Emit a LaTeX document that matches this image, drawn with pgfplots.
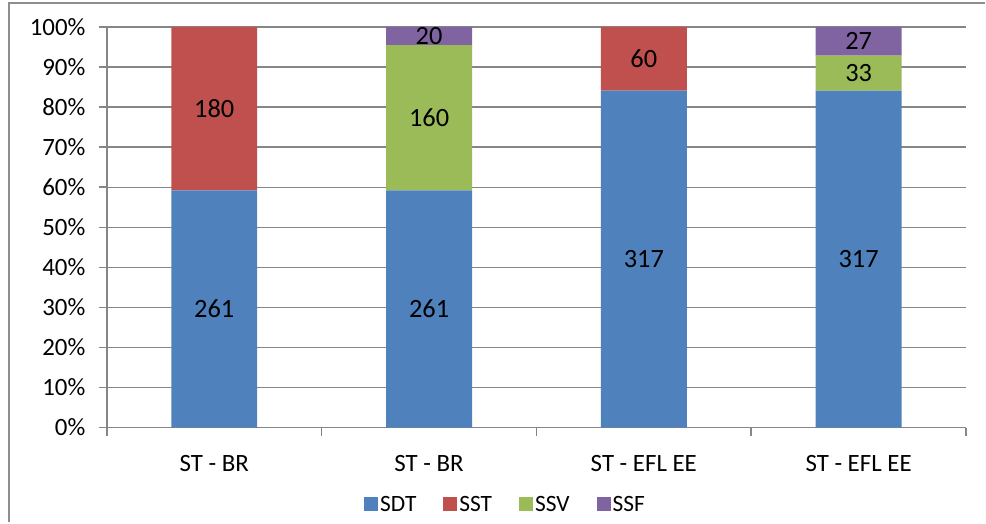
\documentclass[border=0pt]{standalone}
\usepackage{pgfplots}
\usepackage{pgfplotstable}
\pgfplotsset{compat=1.18}
\usepackage{fontspec}
\setmainfont{Carlito}
\usetikzlibrary{calc}

\definecolor{cSDT}{HTML}{4F81BD}
\definecolor{cSST}{HTML}{C0504D}
\definecolor{cSSV}{HTML}{9BBB59}
\definecolor{cSSF}{HTML}{8064A2}
\definecolor{gridgray}{HTML}{868686}
\definecolor{framegray}{HTML}{8E8E8E}

% counts per category
\pgfplotstableread{
x SDT SST SSV SSF
0 261 180 0 0
1 261 0 160 20
2 317 60 0 0
3 317 0 33 27
}\counts

\newcommand{\tot}{(\thisrow{SDT}+\thisrow{SST}+\thisrow{SSV}+\thisrow{SSF})}

\pgfplotsset{
  common/.style={
    scale only axis, width=860bp, height=401bp,
    xmin=-0.5, xmax=3.5, ymin=0, ymax=100,
  },
  seglabel/.style={draw=none, mark=none, point meta=explicit symbolic,
    nodes near coords={\ifnum\pgfplotspointmeta>0 \pgfplotspointmeta\fi}},
}

\begin{document}
\begin{tikzpicture}
\begin{axis}[name=ax, common,
  ybar stacked, bar width=0.4,
  /pgf/number format/assume math mode=true,
  ytick={0,10,...,100},
  yticklabel={\pgfmathprintnumber{\tick}\%},
  yticklabel style={xshift=-10bp},
  xtick={-0.5,0.5,1.5,2.5,3.5}, xticklabels={,,,,},
  extra x ticks={0,1,2,3},
  extra x tick labels={ST - BR, ST - BR, ST - EFL EE, ST - EFL EE},
  extra x tick style={major tick length=0pt, xticklabel style={yshift=-24bp}},
  tick label style={font=\fontsize{25}{30}\selectfont, text=black},
  tick align=outside, major tick length=8bp,
  tick style={gridgray, line width=1.5pt},
  ymajorgrids, grid style={gridgray, line width=1.4pt},
  axis x line*=bottom, axis y line*=left,
  axis line style={gridgray, line width=1.8pt, -},
  legend style={draw=none, fill=none, at={(0.464,-0.192)}, anchor=center,
    legend columns=-1, font=\fontsize{23.5}{28}\selectfont,
    /tikz/every even column/.append style={column sep=25bp},
    inner sep=0pt},
  legend image code/.code={\fill[#1, draw=none] (0bp,-7bp) rectangle (14bp,7bp);},
]
\addplot[fill=cSDT, draw=none] table[x=x, y expr={\thisrow{SDT}/\tot*100}] \counts;
\addplot[fill=cSST, draw=none] table[x=x, y expr={\thisrow{SST}/\tot*100}] \counts;
\addplot[fill=cSSV, draw=none] table[x=x, y expr={\thisrow{SSV}/\tot*100}] \counts;
\addplot[fill=cSSF, draw=none] table[x=x, y expr={\thisrow{SSF}/\tot*100}] \counts;
\legend{SDT, SST, SSV, SSF}
\end{axis}

% segment labels, placed at the middle of each segment
\begin{axis}[common, hide axis,
  every node near coord/.append style={anchor=center, text=black,
    font=\fontsize{26.5}{32}\selectfont},
]
\addplot[seglabel] table[x=x, meta=SDT,
  y expr={(\thisrow{SDT}/2)/\tot*100}] \counts;
\addplot[seglabel] table[x=x, meta=SST,
  y expr={(\thisrow{SDT}+\thisrow{SST}/2)/\tot*100}] \counts;
\addplot[seglabel] table[x=x, meta=SSV,
  y expr={(\thisrow{SDT}+\thisrow{SST}+\thisrow{SSV}/2)/\tot*100}] \counts;
\addplot[seglabel] table[x=x, meta=SSF,
  y expr={(\thisrow{SDT}+\thisrow{SST}+\thisrow{SSV}+\thisrow{SSF}/2)/\tot*100}] \counts;
\end{axis}

% outer chart frame (top and left edges visible) and page size
\draw[framegray, line width=2bp]
  ($(ax.south west)+(-98bp,-95bp)$) -- ($(ax.north west)+(-98bp,23.5bp)$)
  -- ($(ax.north east)+(19bp,23.5bp)$);
\path ($(ax.south west)+(-107bp,-95bp)$) rectangle ($(ax.north east)+(19bp,27bp)$);
\end{tikzpicture}
\end{document}
